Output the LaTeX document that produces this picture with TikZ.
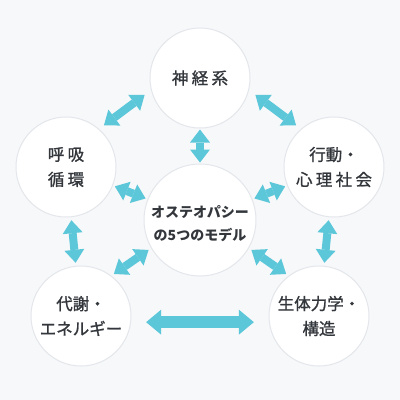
\documentclass[tikz,border=0pt]{standalone}
\usepackage{fontspec}
\setmainfont{Noto Sans CJK JP}
\newfontfamily\jpmed[FakeBold=1.2]{Noto Sans CJK JP}
\newfontfamily\loosejp[FakeBold=1.2,LetterSpace=20]{Noto Sans CJK JP}
\usetikzlibrary{arrows.meta}
\definecolor{bgcol}{HTML}{F7F8FA}
\definecolor{ringgray}{HTML}{E3E6EA}
\definecolor{inkgray}{HTML}{33373C}
\definecolor{linkcyan}{HTML}{5CC7D9}
\begin{document}
\begin{tikzpicture}[
  x=1pt, y=-1pt,
  model/.style={circle, draw=ringgray, line width=1pt, fill=white, minimum size=100pt, inner sep=0pt, align=center, text=inkgray, font=\jpmed\fontsize{16.5}{25}\selectfont},
  loose/.style={font=\loosejp\fontsize{16.5}{25}\selectfont},
  core/.style={model, minimum size=112pt, font=\bfseries\fontsize{14}{23}\selectfont},
  link/.style={draw=linkcyan, line width=8pt, >={Triangle[width=20pt,length=13pt,line width=0pt]}, <->, shorten <=2pt, shorten >=2pt},
  wide/.style={link, line width=12pt, >={Triangle[width=25pt,length=15pt,line width=0pt]}},
]
  \fill[bgcol] (0,0) rectangle (400,400);
  \useasboundingbox (0,0) rectangle (400,400);

  \node[model, loose] (nerve) at (200, 78)  {神経系};
  \node[model, loose] (resp)  at (66, 167)  {呼吸\\循環};
  \node[model]        (behav) at (334, 167) {行動・\\{\loosejp 心理社会}};
  \node[core]         (osteo) at (200, 220) {\rule{0pt}{20pt}オステオパシー\\の5つのモデル};
  \node[model]        (metab) at (81, 316)  {代謝・\\エネルギー};
  \node[model]        (biomech) at (319, 316) {生体力学・\\構造};

  % arrows round the ring
  \draw[link, shorten <=8pt, shorten >=6pt] (nerve.194) -- (resp.49);
  \draw[link, shorten <=8pt, shorten >=6pt] (nerve.346) -- (behav.131);
  \draw[link, shorten <=3pt, shorten >=3pt] (resp) -- (metab);
  \draw[link, shorten <=3pt, shorten >=3pt] (behav) -- (biomech);
  \draw[wide, shorten <=15pt, shorten >=15pt] (metab.-7) -- (biomech.187);

  % arrows to the centre
  \draw[link, shorten <=1pt, shorten >=1pt] (nerve) -- (osteo);
  \draw[link] (resp) -- (osteo);
  \draw[link] (behav) -- (osteo);
  \draw[link, shorten <=3pt, shorten >=3pt] (osteo.210) -- (metab.53);
  \draw[link, shorten <=3pt, shorten >=3pt] (osteo.330) -- (biomech.127);
\end{tikzpicture}
\end{document}
